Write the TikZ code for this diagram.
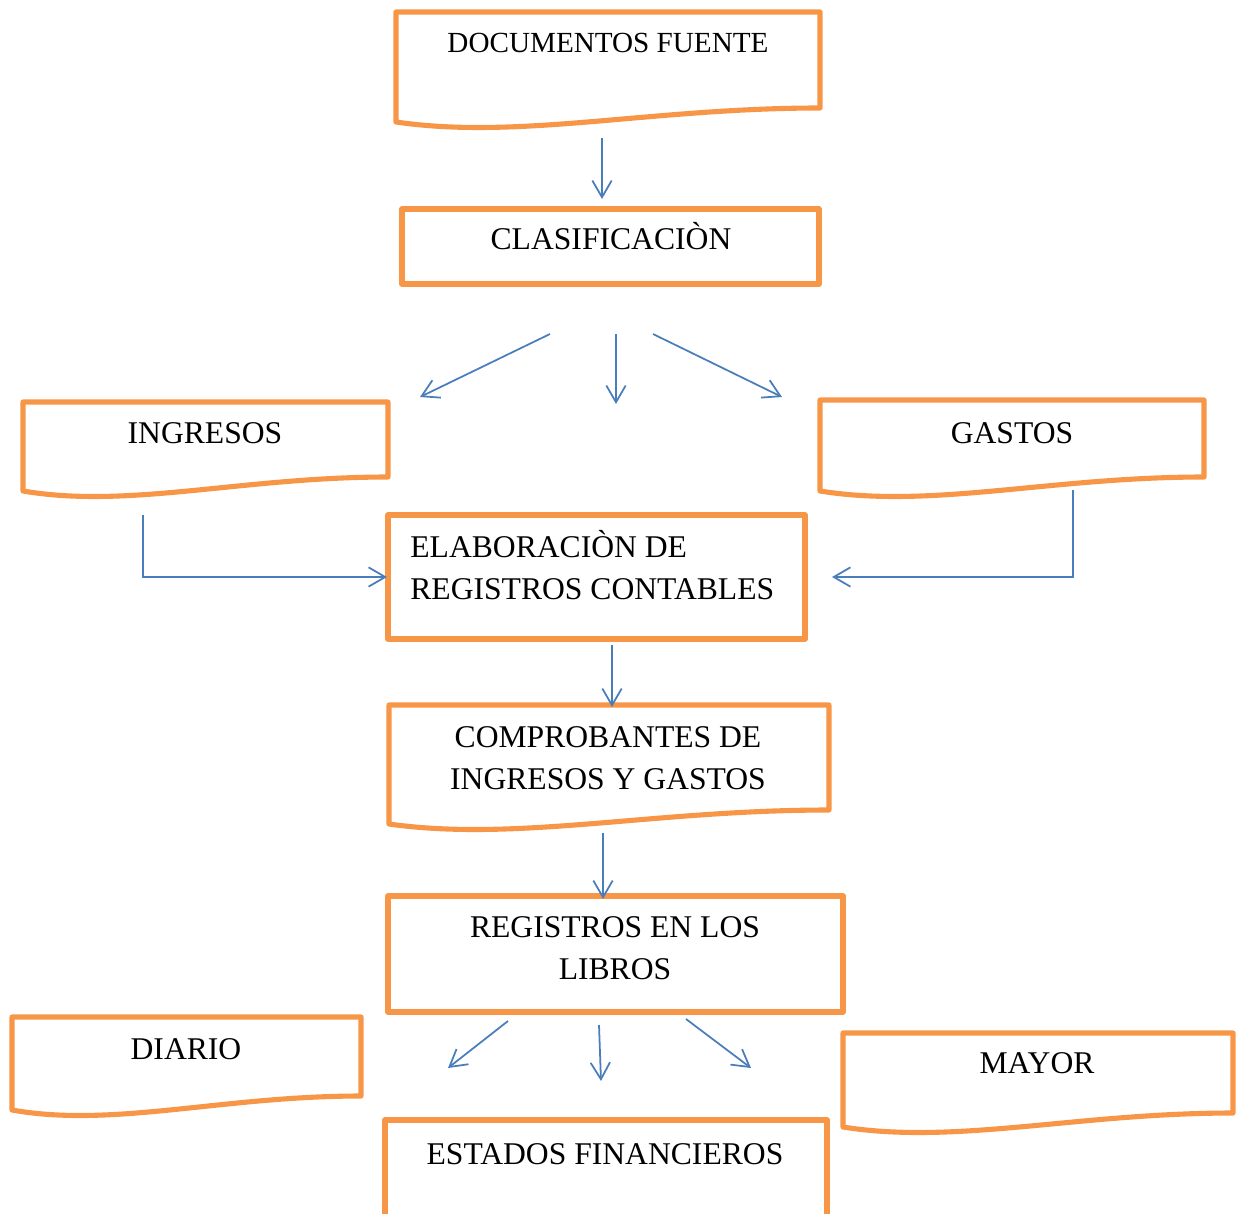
\documentclass[tikz,border=0pt]{standalone}
\usepackage{fontspec}
\setmainfont{Liberation Serif}
\usetikzlibrary{positioning, fit, calc, arrows.meta}
\definecolor{boxorange}{HTML}{F79646}
\definecolor{flowblue}{HTML}{4A7EBB}
\newcommand{\DocWave}[1]{%
  \draw[outline] ([yshift=0.28cm]#1.south east)
    .. controls ($([yshift=0.28cm]#1.south east)!0.4!([yshift=0.28cm]#1.south west)$)
    and ($(#1.south west)!0.29!(#1.south east)+(0pt,-0.36cm)$) .. (#1.south west)
    -- (#1.north west) -- (#1.north east) -- cycle;
}
\tikzset{
    outline/.style={draw=boxorange, line width=2.9pt, line join=round},
    frame/.style={inner sep=0pt, outer sep=0pt},
    rectbox/.style={frame, outline},
    txt/.style={anchor=base, inner sep=0pt, align=center, font=\fontsize{18}{23.8}\selectfont},
    flow/.style={draw=flowblue, line width=1pt, -{Straight Barb[length=9.5pt,width=11pt]}},
}

\begin{document}
\begin{tikzpicture}[x=0.02cm, y=-0.02cm]
    \clip (0,0) rectangle (1240,1213);

    \node[frame, fit={(396,12) (820,122)}] (docs) {};
    \DocWave{docs}
    \node[txt, font=\fontsize{16.6}{20}\selectfont] (docsT) at (608,53) {DOCUMENTOS FUENTE};

    \node[rectbox, fit={(402,209) (819,284)}] (clas) {};
    \node[txt] (clasT) at (611,250) {CLASIFICACIÒN};

    \node[frame, fit={(23,402) (388,491)}] (ingr) {};
    \DocWave{ingr}
    \node[txt] (ingrT) at (205,443) {INGRESOS};

    \node[frame, fit={(820,400) (1204,491)}] (gast) {};
    \DocWave{gast}
    \node[txt] (gastT) at (1012,443) {GASTOS};

    \node[rectbox, fit={(388,515) (805,639)}] (elab) {};
    \node[txt, anchor=base west, align=left] (elabT) at (410,599) {ELABORACIÒN DE\\REGISTROS CONTABLES};

    \node[frame, fit={(389,705) (829,824)}] (comp) {};
    \DocWave{comp}
    \node[txt] (compT) at (608,789) {COMPROBANTES DE\\INGRESOS Y GASTOS};

    \node[rectbox, fit={(388,896) (843,1012)}] (regl) {};
    \node[txt] (reglT) at (615,979) {REGISTROS EN LOS\\LIBROS};

    \node[frame, fit={(12,1017) (361,1110)}] (diar) {};
    \DocWave{diar}
    \node[txt] (diarT) at (186,1059) {DIARIO};

    \node[frame, fit={(843,1033) (1233,1127)}] (mayo) {};
    \DocWave{mayo}
    \node[txt] (mayoT) at (1037,1073) {MAYOR};

    \node[rectbox, fit={(385,1120) (827,1260)}] (esta) {};
    \node[txt] (estaT) at (605,1164) {ESTADOS FINANCIEROS};

    \coordinate (docsOut) at (602,138);
    \coordinate (clasIn) at (602,199);
    \coordinate (clasOutL) at (550,334);
    \coordinate (clasOutC) at (616,334);
    \coordinate (clasOutR) at (653,334);
    \coordinate (fanL) at (420,397);
    \coordinate (fanC) at (616,404);
    \coordinate (fanR) at (782,397);
    \coordinate (ingrOut) at (143,515);
    \coordinate (elabInL) at (387,577);
    \coordinate (gastOut) at (1073,490);
    \coordinate (elabInR) at (832,577);
    \coordinate (elabOut) at (612,645);
    \coordinate (compIn) at (612,707);
    \coordinate (compOut) at (603,833);
    \coordinate (reglIn) at (603,899);
    \coordinate (reglOutL) at (508,1021);
    \coordinate (reglOutC) at (599,1025);
    \coordinate (reglOutR) at (686,1019);
    \coordinate (libL) at (448,1068);
    \coordinate (libC) at (601,1081);
    \coordinate (libR) at (751,1068);

    \draw[flow] (docsOut) -- (clasIn);
    \draw[flow] (clasOutL) -- (fanL);
    \draw[flow] (clasOutC) -- (fanC);
    \draw[flow] (clasOutR) -- (fanR);
    \draw[flow] (ingrOut) |- (elabInL);
    \draw[flow] (gastOut) |- (elabInR);
    \draw[flow] (elabOut) -- (compIn);
    \draw[flow] (compOut) -- (reglIn);
    \draw[flow] (reglOutL) -- (libL);
    \draw[flow] (reglOutC) -- (libC);
    \draw[flow] (reglOutR) -- (libR);
\end{tikzpicture}
\end{document}
